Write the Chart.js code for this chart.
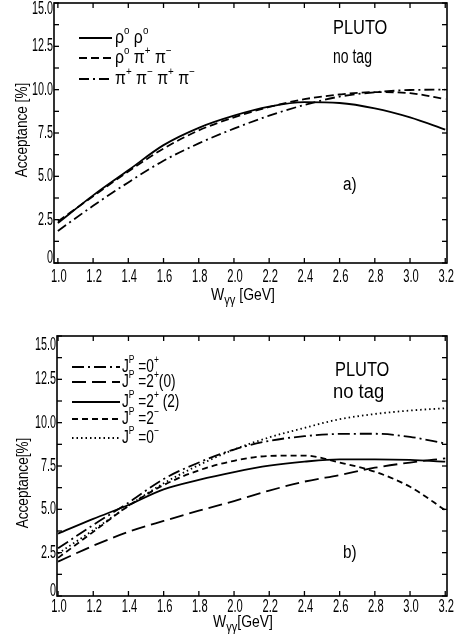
<!DOCTYPE html>
<html><head><meta charset="utf-8">
<script src="https://cdn.jsdelivr.net/npm/chart.js@4.4.0/dist/chart.umd.min.js"></script>
<style>html,body{margin:0;padding:0;background:#fff;overflow:hidden}canvas{display:block}</style>
</head><body>
<canvas id="c1" width="454" height="321"></canvas>
<canvas id="c2" width="454" height="321"></canvas>
<script>
// ---- data ----
const W = [1.0,1.2,1.4,1.6,1.8,2.0,2.2,2.4,2.6,2.8,3.0,3.2];
const xTickVals = [1.0,1.2,1.4,1.6,1.8,2.0,2.2,2.4,2.6,2.8,3.0,3.2];
const xTickLabels = ['1.0','1.2','1.4','1.6','1.8','2.0','2.2','2.4','2.6','2.8','3.0','3.2'];
const yTickVals = [0,2.5,5,7.5,10,12.5,15];
const yTickLabels = ['0','2.5','5.0','7.5','10.0','12.5','15.0'];

// panel a)
const rho0rho0   = [2.3,3.9,5.35,6.8,7.8,8.5,9.02,9.28,9.23,8.92,8.4,7.7];
const rho0pipi   = [2.4,3.85,5.28,6.6,7.65,8.4,9.0,9.45,9.72,9.86,9.8,9.45];
const pipipipi   = [1.85,3.3,4.65,5.9,6.9,7.75,8.5,9.12,9.6,9.85,9.98,10.0];
// panel b)
const jp0plus    = [2.75,4.1,5.38,6.75,7.7,8.45,8.95,9.22,9.35,9.36,9.18,8.8];
const jp2plus0   = [1.98,2.9,3.7,4.33,4.92,5.48,6.08,6.6,6.98,7.4,7.7,7.94];
const jp2plus2   = [3.6,4.45,5.25,6.15,6.7,7.15,7.52,7.75,7.88,7.88,7.85,7.75];
const jp2minus   = [2.2,3.7,5.2,6.4,7.25,7.8,8.08,8.1,7.7,7.17,6.3,4.95];
const jp0minus   = [2.45,3.8,5.2,6.5,7.55,8.45,9.15,9.7,10.2,10.5,10.7,10.83];

const FONT = "'Liberation Sans',Arial,sans-serif";

function pts(ys){ return W.map((x,i)=>({x, y: ys[i]})); }
function ds(label, ys, dash, rich){
  return {label, data: pts(ys), borderColor:'#000', borderWidth:1.8, borderDash:dash,
          pointRadius:0, fill:false, cubicInterpolationMode:'monotone', rich};
}

function txt(ctx, s, x, y, size, sx, align){
  ctx.save();
  ctx.font = size+'px '+FONT; ctx.textBaseline='middle'; ctx.textAlign='left';
  const w = ctx.measureText(s).width*sx;
  const x0 = align==='center' ? x-w/2 : align==='right' ? x-w : x;
  ctx.translate(x0,y); ctx.scale(sx,1); ctx.fillText(s,0,0);
  ctx.restore();
  return w;
}
function richW(ctx, segs, size){
  let w=0;
  for(const [t,m] of segs){
    const fs = m==='sup' ? size*0.62 : m==='sub' ? size*0.8 : size;
    ctx.font = fs+'px '+FONT; w += ctx.measureText(t).width;
  }
  return w;
}
function rich(ctx, segs, x, y, size, sx){
  ctx.save(); ctx.translate(x,y); ctx.scale(sx,1);
  let cx = 0;
  for(const [t, m] of segs){
    let fs = size, dy = 0;
    if(m==='sup'){ fs = size*0.62; dy = -size*0.38; }
    if(m==='sub'){ fs = size*0.8; dy = size*0.3; }
    ctx.font = fs + 'px ' + FONT; ctx.textBaseline='middle'; ctx.textAlign='left';
    ctx.fillText(t, cx, dy);
    cx += ctx.measureText(t).width;
  }
  ctx.restore();
}

const deco = {
  id:'deco',
  afterDraw(chart, args, o){
    const {ctx, chartArea:a, scales:{x,y}} = chart;
    ctx.save();
    ctx.strokeStyle='#000'; ctx.fillStyle='#000';
    ctx.lineWidth=1.6; ctx.setLineDash([]);
    ctx.strokeRect(a.left, a.top, a.right-a.left, a.bottom-a.top);
    ctx.lineWidth=1.3;
    const L=(x1,y1,x2,y2)=>{ctx.beginPath();ctx.moveTo(x1,y1);ctx.lineTo(x2,y2);ctx.stroke();};
    xTickVals.forEach((v,i)=>{
      const px = x.getPixelForValue(v);
      L(px,a.bottom,px,a.bottom-5); L(px,a.top,px,a.top+5);
      txt(ctx, xTickLabels[i], px+1, a.bottom+o.xlabOff, 18, 0.62, 'center');
    });
    for(let v=0; v<=15.001; v+=1.25){
      const py = y.getPixelForValue(v);
      L(a.left,py,a.left+5,py); L(a.right,py,a.right-5,py);
    }
    yTickVals.forEach((v,i)=>{
      let py = y.getPixelForValue(v);
      if(v===15) py += o.topShift;
      if(v===0) py -= 5;
      txt(ctx, yTickLabels[i], a.left-1, py, 18, 0.6, 'right');
    });
    // legend
    chart.data.datasets.forEach((d,i)=>{
      const ry = o.legRows[i];
      ctx.setLineDash(d.borderDash||[]);
      ctx.lineWidth = d.borderWidth;
      L(o.legX0, ry, o.legX1, ry);
      ctx.setLineDash([]);
      rich(ctx, d.rich, o.legTX, ry, o.legSize, o.legSx);
    });
    // annotations
    txt(ctx, 'PLUTO', o.pluto[0], o.pluto[1], 20, 0.82, 'left');
    txt(ctx, 'no tag', o.notag[0], o.notag[1], 20, o.notagSx, 'left');
    txt(ctx, o.tag, o.tagPos[0], o.tagPos[1], 18, 0.85, 'left');
    // x axis title
    const segs = [['W'],['γγ','sub'],[o.xtGap+'[GeV]']];
    const tw = richW(ctx, segs, 17)*0.82;
    rich(ctx, segs, o.xtX - tw/2, o.xtY, 17, 0.82);
    // y axis title
    ctx.save();
    ctx.translate(o.ytX, o.ytY);
    ctx.rotate(-Math.PI/2);
    txt(ctx, o.ytText, 0, 0, 17, o.ytSx, 'center');
    ctx.restore();
    ctx.restore();
  }
};

function makeChart(id, datasets, cfg){
  return new Chart(document.getElementById(id), {
    type:'line',
    data:{datasets},
    options:{
      responsive:false, animation:false,
      layout:{padding:{top:cfg.padTop, right:7, left:0, bottom:0}},
      plugins:{legend:{display:false}, tooltip:{enabled:false}, deco:cfg.deco},
      scales:{
        x:{type:'linear', min:cfg.xmin, max:3.21,
           afterBuildTicks:s=>{s.ticks = xTickVals.map(v=>({value:v}));},
           afterFit:s=>{s.height = cfg.xh;},
           grid:{display:false, drawTicks:false},
           border:{display:false},
           ticks:{display:false}},
        y:{min:0, max:15,
           afterBuildTicks:s=>{s.ticks = yTickVals.map(v=>({value:v}));},
           afterFit:s=>{s.width = cfg.yw;},
           grid:{display:false, drawTicks:false},
           border:{display:false},
           ticks:{display:false}}
      }
    },
    plugins:[deco]
  });
}

makeChart('c1', [
  ds('ρ0ρ0', rho0rho0, [], [['ρ'],['o','sup'],[' ρ'],['o','sup']]),
  ds('ρ0π+π-', rho0pipi, [8,4], [['ρ'],['o','sup'],[' π'],['+','sup'],[' π'],['−','sup']]),
  ds('π+π-π+π-', pipipipi, [10,4,2,4], [['π'],['+','sup'],[' π'],['−','sup'],[' π'],['+','sup'],[' π'],['−','sup']])
], {padTop:3, xmin:0.978, xh:58, yw:54,
    deco:{legRows:[38,58,79], legX0:79, legX1:112, legTX:115, legSize:18, legSx:0.88,
          pluto:[333,28], notag:[333,57], notagSx:0.7, tag:'a)', tagPos:[343,185],
          xlabOff:14, topShift:6,
          xtX:243, xtY:295, xtGap:' ', ytX:22, ytY:130, ytSx:0.8, ytText:'Acceptance [%]'}});

makeChart('c2', [
  ds('JP=0+', jp0plus, [12,4,2,4], [['J'],['P','sup'],[' =0'],['+','sup']]),
  ds('JP=2+(0)', jp2plus0, [14,6], [['J'],['P','sup'],[' =2'],['+','sup'],['(0)']]),
  ds('JP=2+(2)', jp2plus2, [], [['J'],['P','sup'],[' =2'],['+','sup'],[' (2)']]),
  ds('JP=2-', jp2minus, [6,4], [['J'],['P','sup'],[' =2'],['−','sup']]),
  ds('JP=0-', jp0minus, [1.5,3], [['J'],['P','sup'],[' =0'],['−','sup']])
], {padTop:15, xmin:0.994, xh:46, yw:57,
    deco:{legRows:[46,61,81,98,117], legX0:72, legX1:120, legTX:122, legSize:18, legSx:0.76,
          pluto:[335,49], notag:[333,71], notagSx:0.92, tag:'b)', tagPos:[343,232],
          xlabOff:11, topShift:9,
          xtX:243, xtY:301, xtGap:'', ytX:23, ytY:162, ytSx:0.8, ytText:'Acceptance[%]'}});
</script>
</body></html>
